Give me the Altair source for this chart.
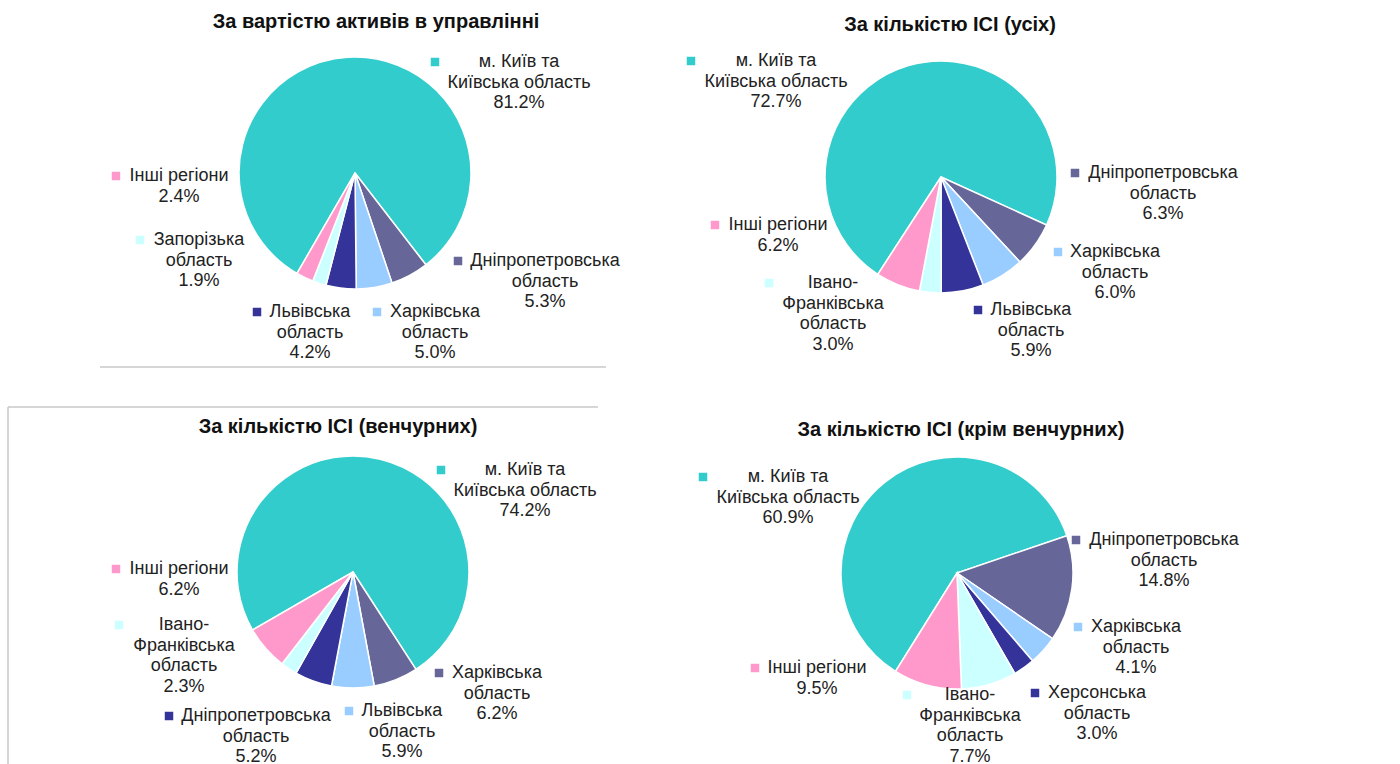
import altair as alt
import pandas as pd

# ---------------- data ----------------
TITLES = [
    "За вартістю активів в управлінні",
    "За кількістю ІСІ (усіх)",
    "За кількістю ІСІ (венчурних)",
    "За кількістю ІСІ (крім венчурних)",
]

NAMES_1 = ["м. Київ та\nКиївська область", "Дніпропетровська\nобласть", "Харківська\nобласть",
           "Львівська\nобласть", "Запорізька\nобласть", "Інші регіони"]
VALUES_1 = [81.2, 5.3, 5.0, 4.2, 1.9, 2.4]

NAMES_2 = ["м. Київ та\nКиївська область", "Дніпропетровська\nобласть", "Харківська\nобласть",
           "Львівська\nобласть", "Івано-\nФранківська\nобласть", "Інші регіони"]
VALUES_2 = [72.7, 6.3, 6.0, 5.9, 3.0, 6.2]

NAMES_3 = ["м. Київ та\nКиївська область", "Харківська\nобласть", "Львівська\nобласть",
           "Дніпропетровська\nобласть", "Івано-\nФранківська\nобласть", "Інші регіони"]
VALUES_3 = [74.2, 6.2, 5.9, 5.2, 2.3, 6.2]

NAMES_4 = ["м. Київ та\nКиївська область", "Дніпропетровська\nобласть", "Харківська\nобласть",
           "Херсонська\nобласть", "Івано-\nФранківська\nобласть", "Інші регіони"]
VALUES_4 = [60.9, 14.8, 4.1, 3.0, 7.7, 9.5]

ALL_NAMES = [NAMES_1, NAMES_2, NAMES_3, NAMES_4]
ALL_VALUES = [VALUES_1, VALUES_2, VALUES_3, VALUES_4]

# ---------------- layout / style ----------------
W, H = 1400, 764
SLICE_COLORS = ["#33CCCC", "#666699", "#99CCFF", "#333399", "#CCFFFF", "#FF99CC"]
PIE_CENTER = [(355, 173), (941, 177), (353, 572), (957, 573)]
PIE_FIRST_ANGLE = [210, 213, 240, 212]   # degrees, clockwise from 12 o'clock
PIE_RADIUS = 116
TITLE_POS = [(376, 22), (950, 25), (338, 427), (961, 430)]
# per slice: (marker x, text centre x, first-line y)
LABEL_POS = [
    [(435, 519, 62), (458, 545, 261), (377, 435, 312), (257, 310, 312), (140, 199, 240), (116, 179, 176)],
    [(691, 776, 61), (1075, 1163, 173), (1058, 1115, 252), (978, 1031, 310), (769, 833, 283), (715, 778, 225)],
    [(441, 525, 470), (439, 497, 673), (349, 402, 711), (169, 256, 716), (119, 184, 625), (116, 179, 569)],
    [(703, 788, 477), (1076, 1164, 540), (1078, 1136, 627), (1035, 1097, 693), (907, 970, 695), (755, 817, 668)],
]
LINE_H = 20.6
FRAME_LINES = [(100, 606, 367, 367), (8, 598, 407, 407), (8, 8, 407, 764)]
FONT = "Liberation Sans"
TEXT_COLOR = "#222222"
TAU = 6.283185307179586

# ---------------- tables ----------------
slices, markers, texts, titles = [], [], [], []
for p in range(4):
    cx, cy = PIE_CENTER[p]
    for i, (name, val) in enumerate(zip(ALL_NAMES[p], ALL_VALUES[p])):
        slices.append({"pie": p, "slot": i, "value": val, "cx": cx, "cy": cy,
                       "rot": PIE_FIRST_ANGLE[p] / 360.0})
        mx, tx, ty = LABEL_POS[p][i]
        markers.append({"pie": p, "slot": i, "x": mx, "y": ty})
        lines = name.split("\n") + [f"{val:.1f}%"]
        for k, ln in enumerate(lines):
            texts.append({"x": tx, "y": ty + k * LINE_H, "text": ln})
    titles.append({"x": TITLE_POS[p][0], "y": TITLE_POS[p][1], "text": TITLES[p]})

df_slices = pd.DataFrame(slices)
df_markers = pd.DataFrame(markers)
df_texts = pd.DataFrame(texts)
df_titles = pd.DataFrame(titles)
df_frame = pd.DataFrame(FRAME_LINES, columns=["x", "x2", "y", "y2"])

xs = alt.Scale(domain=[0, W], range=[0, W], nice=False, zero=False)
ys = alt.Scale(domain=[0, H], range=[0, H], nice=False, zero=False)
color_scale = alt.Scale(domain=list(range(6)), range=SLICE_COLORS)

arcs = (
    alt.Chart(df_slices)
    .transform_window(cum="sum(value)", groupby=["pie"], sort=[alt.SortField("slot")], frame=[None, 0])
    .transform_joinaggregate(total="sum(value)", groupby=["pie"])
    .transform_calculate(
        start="datum.rot + (datum.cum - datum.value) / datum.total",
        end="datum.rot + datum.cum / datum.total",
    )
    .mark_arc(radius=PIE_RADIUS, stroke="white", strokeWidth=1.5)
    .encode(
        x=alt.X("cx:Q", scale=xs, axis=None),
        y=alt.Y("cy:Q", scale=ys, axis=None),
        theta=alt.Theta("start:Q", scale=alt.Scale(domain=[0, 2], range=[0, 2 * TAU], nice=False, zero=False)),
        theta2="end:Q",
        color=alt.Color("slot:N", scale=color_scale, legend=None),
    )
)

marks = (
    alt.Chart(df_markers)
    .mark_square(size=72, opacity=1)
    .encode(
        x=alt.X("x:Q", scale=xs, axis=None),
        y=alt.Y("y:Q", scale=ys, axis=None),
        color=alt.Color("slot:N", scale=color_scale, legend=None),
    )
)

labels = (
    alt.Chart(df_texts)
    .mark_text(font=FONT, fontSize=18, color=TEXT_COLOR, align="center", baseline="middle")
    .encode(
        x=alt.X("x:Q", scale=xs, axis=None),
        y=alt.Y("y:Q", scale=ys, axis=None),
        text="text:N",
    )
)

title_text = (
    alt.Chart(df_titles)
    .mark_text(font=FONT, fontSize=20, fontWeight="bold", color="#111111", align="center", baseline="middle")
    .encode(
        x=alt.X("x:Q", scale=xs, axis=None),
        y=alt.Y("y:Q", scale=ys, axis=None),
        text="text:N",
    )
)

frame = (
    alt.Chart(df_frame)
    .mark_rule(color="#c8c8c8", strokeWidth=1.5)
    .encode(
        x=alt.X("x:Q", scale=xs, axis=None),
        x2="x2:Q",
        y=alt.Y("y:Q", scale=ys, axis=None),
        y2="y2:Q",
    )
)

chart = (
    alt.layer(frame, arcs, marks, labels, title_text)
    .properties(width=W, height=H, autosize="none", padding=0, background="white")
    .configure_view(stroke=None)
)

chart.save("out.html", embed_options={"renderer": "svg", "actions": False})
